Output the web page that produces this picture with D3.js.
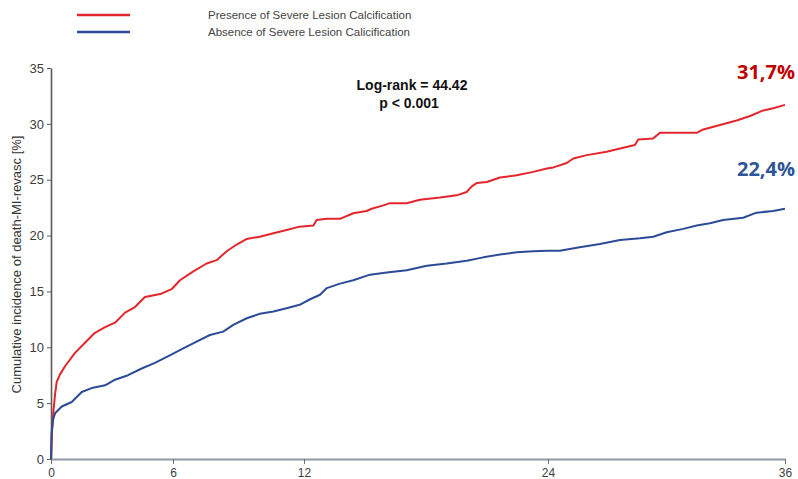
<!DOCTYPE html>
<html>
<head>
<meta charset="utf-8">
<script src="https://cdn.jsdelivr.net/npm/d3@7"></script>
<style>
  html, body { margin: 0; padding: 0; background: #fff; }
  svg { display: block; }
</style>
</head>
<body>
<svg id="chart" width="798" height="479"></svg>
<script>
// Follow-up time in months and cumulative incidence (%) for each group
const presenceMonths = [0, 0.05, 0.11, 0.2, 0.28, 0.45, 0.69, 1.18, 1.67, 2.16, 2.66, 3.15, 3.64, 4.13, 4.62, 5.43, 5.93, 6.32, 6.93, 7.54, 8.0, 8.46, 8.92, 9.38, 9.98, 10.6, 11.2, 11.8, 12.46, 12.62, 13.12, 13.77, 14.42, 15.08, 15.33, 15.9, 16.23, 17.05, 17.7, 18.69, 19.51, 20.0, 20.25, 20.49, 20.99, 21.64, 22.46, 23.28, 23.94, 24.27, 24.95, 25.28, 25.96, 26.97, 27.65, 28.4, 28.57, 29.33, 29.67, 30.34, 31.53, 31.86, 32.71, 33.55, 34.23, 34.9, 35.4, 36];
const presenceValues = [0, 2.5, 4.1, 5.8, 6.9, 7.6, 8.3, 9.5, 10.4, 11.3, 11.8, 12.2, 13.1, 13.6, 14.5, 14.8, 15.2, 16.0, 16.8, 17.5, 17.8, 18.6, 19.2, 19.7, 19.9, 20.2, 20.5, 20.8, 20.9, 21.4, 21.5, 21.5, 22.0, 22.2, 22.4, 22.7, 22.9, 22.9, 23.2, 23.4, 23.6, 23.9, 24.4, 24.7, 24.8, 25.2, 25.4, 25.7, 26.0, 26.1, 26.5, 26.9, 27.2, 27.5, 27.8, 28.1, 28.6, 28.7, 29.2, 29.2, 29.2, 29.5, 29.9, 30.3, 30.7, 31.2, 31.4, 31.7];

const absenceMonths = [0, 0.03, 0.1, 0.2, 0.53, 1.02, 1.51, 2.0, 2.66, 3.15, 3.79, 4.46, 5.11, 5.77, 6.47, 7.08, 7.69, 8.3, 8.76, 9.38, 9.98, 10.6, 11.2, 11.8, 12.3, 12.79, 13.12, 13.77, 14.42, 15.25, 16.07, 17.05, 18.04, 19.02, 20.0, 20.82, 21.64, 22.46, 23.28, 24.0, 24.6, 25.6, 26.63, 27.65, 28.66, 29.33, 30.01, 30.85, 31.53, 32.2, 32.87, 33.88, 34.56, 35.4, 36];
const absenceValues = [0, 2.3, 3.5, 4.1, 4.7, 5.1, 6.0, 6.35, 6.6, 7.1, 7.5, 8.1, 8.6, 9.2, 9.9, 10.5, 11.1, 11.4, 12.0, 12.6, 13.0, 13.2, 13.5, 13.8, 14.3, 14.7, 15.3, 15.7, 16.0, 16.5, 16.7, 16.9, 17.3, 17.5, 17.75, 18.05, 18.3, 18.5, 18.6, 18.65, 18.65, 18.95, 19.25, 19.6, 19.75, 19.9, 20.3, 20.6, 20.9, 21.1, 21.4, 21.6, 22.05, 22.2, 22.4];

const xTicks = [0, 6, 12, 24, 36];
const yTicks = [0, 5, 10, 15, 20, 25, 30, 35];
const legendLabels = ["Presence of Severe Lesion Calcification", "Absence of Severe Lesion Calicification"];
const seriesColors = ["#e3262b", "#2c4b96"];
const endLabelColors = ["#c00000", "#2f5597"];

const svg = d3.select("#chart");

// Month axis is drawn with its tick marks at their own spacing
const x = d3.scaleLinear().domain(xTicks).range([51, 173, 304, 548, 785]);
const y = d3.scaleLinear().domain([0, 35]).range([459, 68]);

// Y axis
const yAxis = svg.append("g")
  .attr("transform", `translate(${x(0)},0)`)
  .call(d3.axisLeft(y).tickValues(yTicks).tickSize(4).tickSizeOuter(0).tickPadding(3));
yAxis.select(".domain").attr("stroke", "#5a5a5a").attr("stroke-width", 1.6);
yAxis.selectAll(".tick line").attr("stroke", "#5a5a5a");
yAxis.selectAll(".tick text")
  .attr("font-family", "Arial, 'Liberation Sans', sans-serif")
  .attr("font-size", 13).attr("fill", "#3d3d3d");

// X axis
const xAxis = svg.append("g")
  .attr("transform", `translate(0,${y(0)})`)
  .call(d3.axisBottom(x).tickValues(xTicks).tickSize(5).tickSizeOuter(0).tickPadding(4));
xAxis.select(".domain").attr("stroke", "#8f9aa6").attr("stroke-width", 2);
xAxis.selectAll(".tick line").attr("stroke", "#6a737d");
xAxis.selectAll(".tick text")
  .attr("font-family", "Arial, 'Liberation Sans', sans-serif")
  .attr("font-size", 12).attr("fill", "#3d3d3d");

// Y axis title
svg.append("text")
  .attr("transform", `translate(21,${(y(0) + y(35)) / 2 + 1}) rotate(-90)`)
  .attr("text-anchor", "middle")
  .attr("font-family", "Arial, 'Liberation Sans', sans-serif")
  .attr("font-size", 13).attr("fill", "#333")
  .text("Cumulative incidence of death-MI-revasc [%]");

// Curves
const line = d3.line().x(d => x(d[0])).y(d => y(d[1]));
const series = [
  d3.zip(presenceMonths, presenceValues),
  d3.zip(absenceMonths, absenceValues)
];
svg.selectAll("path.curve")
  .data(series)
  .join("path")
  .attr("class", "curve")
  .attr("d", line)
  .attr("fill", "none")
  .attr("stroke", (d, i) => seriesColors[i])
  .attr("stroke-width", 2)
  .attr("stroke-linejoin", "round");

// Legend
const legend = svg.append("g");
legendLabels.forEach((label, i) => {
  const ly = 15 + i * 17;
  legend.append("line")
    .attr("x1", 77).attr("x2", 130).attr("y1", ly).attr("y2", ly)
    .attr("stroke", seriesColors[i]).attr("stroke-width", 2.5);
  legend.append("text")
    .attr("x", 208).attr("y", ly + 4)
    .attr("font-family", "Arial, 'Liberation Sans', sans-serif")
    .attr("font-size", 11.5).attr("fill", "#444")
    .text(label);
});

// Test statistic
const stat = svg.append("g")
  .attr("font-family", "Arial, 'Liberation Sans', sans-serif")
  .attr("font-weight", "bold").attr("font-size", 14).attr("fill", "#111")
  .attr("text-anchor", "middle");
stat.append("text").attr("x", 412).attr("y", 90).text("Log-rank = 44.42");
stat.append("text").attr("x", 409).attr("y", 108).text("p < 0.001");

// End-of-follow-up values
const finals = [presenceValues[presenceValues.length - 1], absenceValues[absenceValues.length - 1]];
const labelY = [79, 176];
finals.forEach((v, i) => {
  svg.append("text")
    .attr("x", 795).attr("y", labelY[i])
    .attr("text-anchor", "end")
    .attr("font-family", "'Open Sans', 'Noto Sans', sans-serif")
    .attr("font-weight", "bold").attr("font-size", 20)
    .attr("fill", endLabelColors[i])
    .text(d3.format(".1f")(v).replace(".", ",") + "%");
});
</script>
</body>
</html>
